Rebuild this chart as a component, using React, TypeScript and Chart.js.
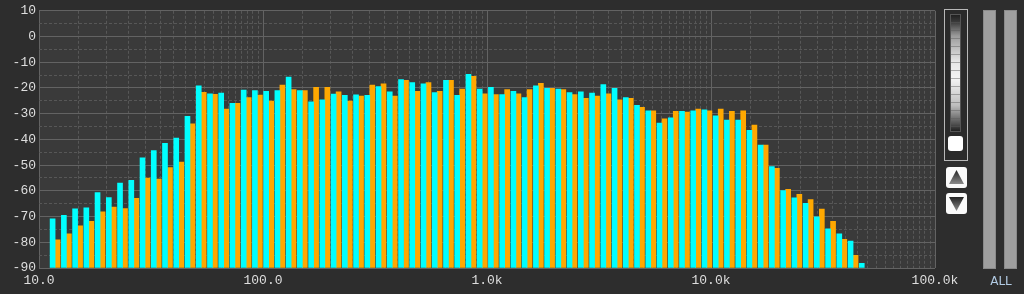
import React, { useEffect, useRef } from "react";
import { Chart, registerables } from "chart.js";

Chart.register(...registerables);

// 1/6-octave band centres (Hz)
const bandFreqs = [
  11.8, 13.25, 14.87, 16.69, 18.73, 21.03,
  23.6, 26.5, 29.74, 33.38, 37.46, 42.06,
  47.2, 53.0, 59.48, 66.76, 74.92, 84.12,
  94.4, 106, 118.96, 133.52, 149.84, 168.24,
  188.8, 212, 237.9, 267, 299.7, 336.5,
  377.6, 424, 475.8, 534.1, 599.4, 673,
  755.2, 848, 951.7, 1068, 1199, 1346,
  1510, 1696, 1903, 2136, 2397, 2692,
  3021, 3392, 3807, 4273, 4795, 5384,
  6042, 6784, 7614, 8546, 9590, 10770,
  12083, 13568, 15227, 17091, 19180, 21539,
  24166, 27136, 30454, 34182, 38360, 43078,
  48333,
];

const cyanLevels = [
  -70.9, -69.5, -67.0, -66.6, -60.7, -62.6, -57.0, -55.9, -47.2, -44.3,
  -41.5, -39.5, -31.0, -19.2, -22.3, -22.0, -26.0, -20.8, -21.0, -21.3,
  -21.0, -15.8, -21.0, -25.4, -24.6, -22.4, -22.9, -22.7, -22.9, -19.5,
  -21.5, -16.7, -17.9, -18.4, -21.8, -17.0, -22.9, -14.7, -20.4, -19.8,
  -22.6, -21.3, -23.7, -19.2, -20.1, -20.4, -21.8, -21.5, -22.0, -18.7,
  -20.1, -23.7, -26.8, -28.9, -33.7, -31.6, -29.1, -28.9, -28.5, -30.8,
  -32.5, -32.5, -36.5, -42.2, -50.6, -59.9, -62.7, -64.9, -70.1, -74.8,
  -76.7, -79.5, -88.2,
];

const orangeLevels = [
  -79.0, -76.7, -73.6, -71.9, -68.2, -66.3, -66.9, -62.9, -55.0, -55.4,
  -51.0, -48.8, -33.9, -21.7, -22.5, -28.2, -26.0, -23.7, -22.8, -25.1,
  -18.9, -20.6, -21.0, -19.8, -19.8, -21.5, -25.1, -23.2, -18.9, -18.4,
  -23.2, -17.0, -21.3, -17.9, -21.3, -17.0, -20.4, -15.5, -22.3, -22.6,
  -20.6, -22.3, -20.6, -18.2, -20.1, -20.6, -22.6, -24.0, -23.2, -22.3,
  -24.6, -24.0, -27.5, -28.9, -32.0, -29.1, -29.4, -28.2, -28.9, -28.2,
  -29.1, -28.9, -34.4, -42.2, -51.2, -59.4, -61.4, -63.4, -67.1, -71.9,
  -78.9, -85.1, null,
];

const yGridValues = [10, 5, 0, -5, -10, -15, -20, -25, -30, -35, -40, -45, -50, -55, -60, -65, -70, -75, -80, -85, -90];
const decades = [10, 100, 1000, 10000];
const gridMultipliers = [1, 1.5, 2, 2.5, 3, 3.5, 4, 4.5, 5, 5.5, 6, 6.5, 7, 7.5, 8, 8.5, 9, 9.5];
const xLabels: Record<string, string> = {
  "10": "10.0",
  "100": "100.0",
  "1000": "1.0k",
  "10000": "10.0k",
  "100000": "100.0k",
};

const Y_MIN = -90;
const Y_MAX = 10;
const F_MIN = 10;
const F_MAX = 100000;

const FONT = { family: "'Liberation Mono', 'DejaVu Sans Mono', monospace", size: 13 };
const TEXT = "#dedede";
const GRID_MAJOR = "#636363";
const GRID_MINOR = "#575757";
const BAR_W = 5;

const isDecade = (v: number) => Object.prototype.hasOwnProperty.call(xLabels, String(Math.round(v)));

const plotBg = {
  id: "plotBg",
  beforeDraw(chart: any) {
    const { ctx, chartArea: a } = chart;
    ctx.save();
    ctx.fillStyle = "#3a3a3a";
    ctx.fillRect(a.left, a.top, a.right - a.left, a.bottom - a.top);
    ctx.restore();
  },
};

function SpectrumChart() {
  const ref = useRef<HTMLCanvasElement | null>(null);
  useEffect(() => {
    if (!ref.current) return;
    const xGrid: number[] = [];
    decades.forEach((d) => gridMultipliers.forEach((m) => xGrid.push(d * m)));
    xGrid.push(F_MAX);

    const chart = new Chart(ref.current, {
      type: "bar",
      data: {
        datasets: [
          {
            label: "A",
            data: bandFreqs.map((f, i) => ({ x: f, y: cyanLevels[i] })),
            backgroundColor: "#00ffff",
            base: Y_MIN,
            borderWidth: 0,
            barThickness: BAR_W,
          } as any,
          {
            label: "B",
            data: bandFreqs.map((f, i) => ({ x: f, y: orangeLevels[i] })),
            backgroundColor: "#ffa800",
            base: Y_MIN,
            borderWidth: 0,
            barThickness: BAR_W,
          } as any,
        ],
      },
      options: {
        animation: false,
        responsive: false,
        devicePixelRatio: 1,
        layout: { padding: { left: 0, top: 10, right: 89, bottom: 0 } },
        plugins: { legend: { display: false }, tooltip: { enabled: false } },
        scales: {
          x: {
            type: "logarithmic",
            min: F_MIN,
            max: F_MAX,
            offset: false,
            afterBuildTicks: (s: any) => {
              s.ticks = xGrid.map((v) => ({ value: v }));
            },
            afterFit: (s: any) => {
              s.height = 26;
            },
            ticks: {
              autoSkip: false,
              maxRotation: 0,
              minRotation: 0,
              color: TEXT,
              font: FONT,
              padding: 5,
              callback: (v: any) => xLabels[String(Math.round(Number(v)))] ?? "",
            },
            grid: {
              offset: false,
              drawTicks: false,
              lineWidth: 1,
              color: (c: any) => (c.tick && isDecade(c.tick.value) ? GRID_MAJOR : GRID_MINOR),
            },
            border: {
              display: false,
              dash: (c: any) => (c.tick && isDecade(c.tick.value) ? [] : [3, 2]),
            },
          } as any,
          y: {
            type: "linear",
            min: Y_MIN,
            max: Y_MAX,
            afterBuildTicks: (s: any) => {
              s.ticks = yGridValues.map((v) => ({ value: v }));
            },
            afterFit: (s: any) => {
              s.width = 39;
            },
            ticks: {
              autoSkip: false,
              color: TEXT,
              font: FONT,
              padding: 3,
              callback: (v: any) => (Number(v) % 10 === 0 ? String(v) : ""),
            },
            grid: {
              drawTicks: false,
              lineWidth: 1,
              color: (c: any) => (c.tick && c.tick.value % 10 === 0 ? GRID_MAJOR : GRID_MINOR),
            },
            border: {
              display: false,
              dash: (c: any) => (c.tick && c.tick.value % 10 === 0 ? [] : [3, 2]),
            },
          } as any,
        },
      },
      plugins: [plotBg],
    });
    return () => chart.destroy();
  }, []);
  return (
    <canvas
      ref={ref}
      width={1024}
      height={294}
      style={{ position: "absolute", left: 0, top: 0, width: 1024, height: 294 }}
    />
  );
}

function ArrowButton({ top, up }: { top: number; up: boolean }) {
  const gid = up ? "gUp" : "gDown";
  return (
    <div
      style={{
        position: "absolute",
        left: 946,
        top,
        width: 21,
        height: 21,
        background: "#fafafa",
        borderRadius: 3,
      }}
    >
      <svg width={21} height={21} style={{ position: "absolute", left: 0, top: 0 }}>
        <defs>
          <linearGradient id={gid} x1="0" y1="0" x2="0" y2="1">
            <stop offset="0" stopColor="#222" />
            <stop offset="1" stopColor="#8a8a8a" />
          </linearGradient>
        </defs>
        {up ? (
          <polygon points="10.5,3 18,17 3,17" fill={`url(#${gid})`} />
        ) : (
          <polygon points="3,4 18,4 10.5,18" fill={`url(#${gid})`} />
        )}
      </svg>
    </div>
  );
}

function SidePanel() {
  return (
    <>
      <div
        style={{
          position: "absolute",
          left: 944,
          top: 9,
          width: 22,
          height: 150,
          border: "1px solid #b8b8b8",
          background: "#2a2a2a",
        }}
      />
      <div
        style={{
          position: "absolute",
          left: 950,
          top: 14,
          width: 11,
          height: 118,
          boxSizing: "border-box",
          border: "1px solid #555",
          background:
            "repeating-linear-gradient(to bottom, rgba(0,0,0,0) 0px, rgba(0,0,0,0) 7px, rgba(90,90,90,0.45) 7px, rgba(90,90,90,0.45) 8px), linear-gradient(to bottom, #202020 0%, #3a3a3a 6%, #9a9a9a 18%, #e6e6e6 40%, #f4f4f4 55%, #bdbdbd 78%, #505050 94%, #202020 100%)",
        }}
      />
      <div
        style={{
          position: "absolute",
          left: 948,
          top: 136,
          width: 15,
          height: 15,
          background: "#ffffff",
          borderRadius: 3,
        }}
      />
      <ArrowButton top={167} up={true} />
      <ArrowButton top={193} up={false} />
      <div
        style={{
          position: "absolute",
          left: 983,
          top: 10,
          width: 13,
          height: 259,
          boxSizing: "border-box",
          background: "#9f9f9f",
          border: "1px solid #8a8a8a",
        }}
      />
      <div
        style={{
          position: "absolute",
          left: 1004,
          top: 10,
          width: 13,
          height: 259,
          boxSizing: "border-box",
          background: "#9f9f9f",
          border: "1px solid #8a8a8a",
        }}
      />
      <div
        style={{
          position: "absolute",
          left: 989,
          top: 274,
          width: 24,
          textAlign: "center",
          fontFamily: "'DejaVu Sans', sans-serif",
          fontSize: 12,
          lineHeight: "14px",
          color: "#b2cbe4",
        }}
      >
        ALL
      </div>
    </>
  );
}

export default function App() {
  useEffect(() => {
    document.body.style.margin = "0";
    document.body.style.background = "#2d2d2d";
  }, []);
  return (
    <div
      style={{
        position: "fixed",
        left: 0,
        top: 0,
        width: 1024,
        height: 294,
        overflow: "hidden",
        background: "#2d2d2d",
      }}
    >
      <SpectrumChart />
      <SidePanel />
    </div>
  );
}
